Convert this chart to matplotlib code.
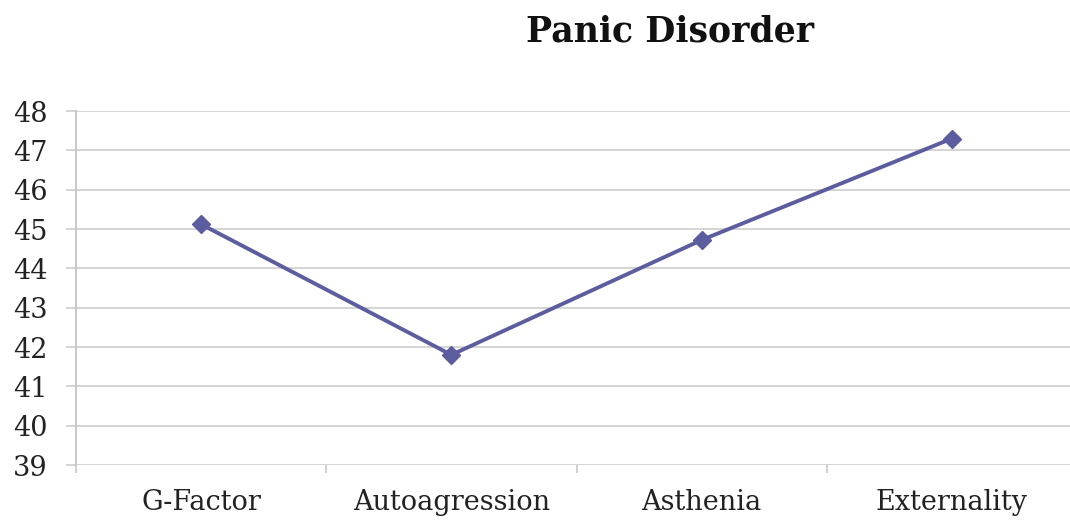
import matplotlib
matplotlib.use("Agg")
import matplotlib.pyplot as plt
from matplotlib.ticker import FixedLocator

categories = ["G-Factor", "Autoagression", "Asthenia", "Externality"]
values = [45.12, 41.8, 44.72, 47.3]
yticks = list(range(39, 49))
title = "Panic Disorder"

W, H, DPI = 1070, 521, 100
fig = plt.figure(figsize=(W / DPI, H / DPI), dpi=DPI)
fig.patch.set_facecolor("white")

left, right = 76, 1077
bottom, top = 465, 111
ax = fig.add_axes([left / W, 1 - bottom / H, (right - left) / W, (bottom - top) / H])

line_color = "#5B5D9F"
x = list(range(len(categories)))
ax.plot(x, values, color=line_color, linewidth=2.8, marker="D", markersize=9.5,
        markerfacecolor=line_color, markeredgecolor=line_color, zorder=3, clip_on=False)

ax.set_xlim(-0.5, len(categories) - 0.5)
ax.set_ylim(39, 48)
ax.set_yticks(yticks)
ax.set_xticks(x)
ax.set_xticklabels(categories)
ax.xaxis.set_minor_locator(FixedLocator([i - 0.5 for i in range(len(categories) + 1)]))

serif = ["DejaVu Serif"]
for lab in ax.get_yticklabels():
    lab.set_fontfamily(serif)
    lab.set_fontsize(19.5)
    lab.set_color("#222222")
for lab in ax.get_xticklabels():
    lab.set_fontfamily(serif)
    lab.set_fontsize(19.5)
    lab.set_color("#222222")

ax.grid(axis="y", color="#D4D4D4", linewidth=1.4, zorder=0)
ax.set_axisbelow(True)
for s in ["top", "right", "bottom"]:
    ax.spines[s].set_visible(False)
ax.spines["left"].set_color("#C8C8C8")
ax.spines["left"].set_linewidth(1.4)

ax.tick_params(axis="y", length=7, width=1.4, color="#D4D4D4", pad=13.5)
ax.tick_params(axis="x", which="major", length=0, pad=17)
ax.tick_params(axis="x", which="minor", length=6, width=1.2, color="#C8C8C8", direction="out")

fig.text(670 / W, 1 - 31 / H, title, ha="center", va="center",
         fontsize=25, fontweight="bold", family=serif, color="#111111")

fig.savefig("out.png", dpi=DPI, facecolor="white")
